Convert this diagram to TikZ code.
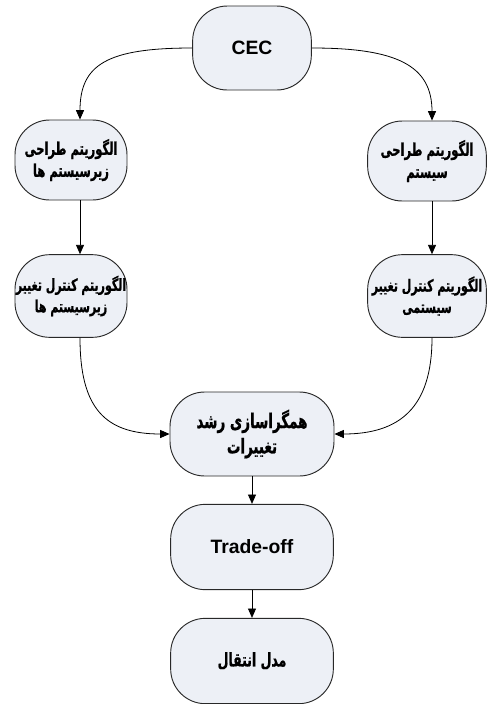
\documentclass[tikz,border=0pt]{standalone}
\usepackage{fontspec}
\setmainfont{Liberation Sans}
\newfontfamily\arabicfont[Script=Arabic, FakeStretch=0.66, BoldFeatures={FakeBold=0.8}]{DejaVu Sans}
\TeXXeTstate=1
\usetikzlibrary{arrows.meta}
\definecolor{boxfill}{RGB}{237,240,246}
\definecolor{boxline}{RGB}{40,40,40}
\newcommand{\fa}[1]{{\arabicfont\bfseries\beginR #1\endR}}
\tikzset{
  flowbox/.style={draw=boxline, fill=boxfill, line width=0.7pt, rectangle,
    rounded corners=26pt, align=center, inner sep=0pt, font=\bfseries},
  flowarrow/.style={draw=black, line width=0.6pt, -{Triangle[length=7pt,width=6pt]}},
  bigtxt/.style={font=\fontsize{14.5}{17}\selectfont\bfseries},
  midtxt/.style={font=\fontsize{13.1}{16.5}\selectfont},
  smalltxt/.style={font=\fontsize{12.5}{16}\selectfont},
}
\begin{document}
\begin{tikzpicture}[x=0.75pt, y=0.75pt]
  \useasboundingbox (0,0) rectangle (497,-704);
  % x positions of the side columns of arrows
  \coordinate (lx) at (80,0);
  \coordinate (rx) at (432,0);

  \node[flowbox, bigtxt, minimum width=89pt, minimum height=63pt] (cec) at (252,-48) {CEC};

  \node[flowbox, midtxt, minimum width=84pt, minimum height=60pt] (l1) at (71,-160)
    {\fa{الگوریتم طراحی}\\\fa{زیرسیستم ها}};
  \node[flowbox, midtxt, minimum width=89pt, minimum height=60pt] (r1) at (427,-161)
    {\fa{الگوریتم طراحی}\\\fa{سیستم}};

  \node[flowbox, smalltxt, minimum width=84pt, minimum height=62pt] (l2) at (71,-296)
    {\fa{الگوریتم کنترل تغییر}\\\fa{زیرسیستم ها}};
  \node[flowbox, smalltxt, minimum width=89pt, minimum height=62pt] (r2) at (427,-296)
    {\fa{الگوریتم کنترل تغییر}\\\fa{سیستمی}};

  \node[flowbox, font=\fontsize{15.3}{19}\selectfont, minimum width=123pt, minimum height=63pt] (mid) at (252,-434)
    {\fa{همگراسازی رشد}\\\fa{تغییرات}};

  \node[flowbox, bigtxt, minimum width=122pt, minimum height=64pt] (trade) at (252,-547) {Trade-off};

  \node[flowbox, font=\fontsize{14.2}{16}\selectfont, minimum width=122pt, minimum height=64pt] (model) at (252,-661)
    {\fa{مدل انتقال}};

  % connectors
  \draw[flowarrow] (cec.west) .. controls +(-85,0) and +(0,55) .. (l1.north -| lx);
  \draw[flowarrow] (cec.east) .. controls +(85,0) and +(0,55) .. (r1.north -| rx);
  \draw[flowarrow] (l1.south -| lx) -- (l2.north -| lx);
  \draw[flowarrow] (r1.south -| rx) -- (r2.north -| rx);
  \draw[flowarrow] (l2.south -| lx) .. controls +(0,-70) and +(-65,0) .. (mid.west);
  \draw[flowarrow] (r2.south -| rx) .. controls +(0,-70) and +(65,0) .. (mid.east);
  \draw[flowarrow] (mid) -- (trade);
  \draw[flowarrow] (trade) -- (model);
\end{tikzpicture}
\end{document}
